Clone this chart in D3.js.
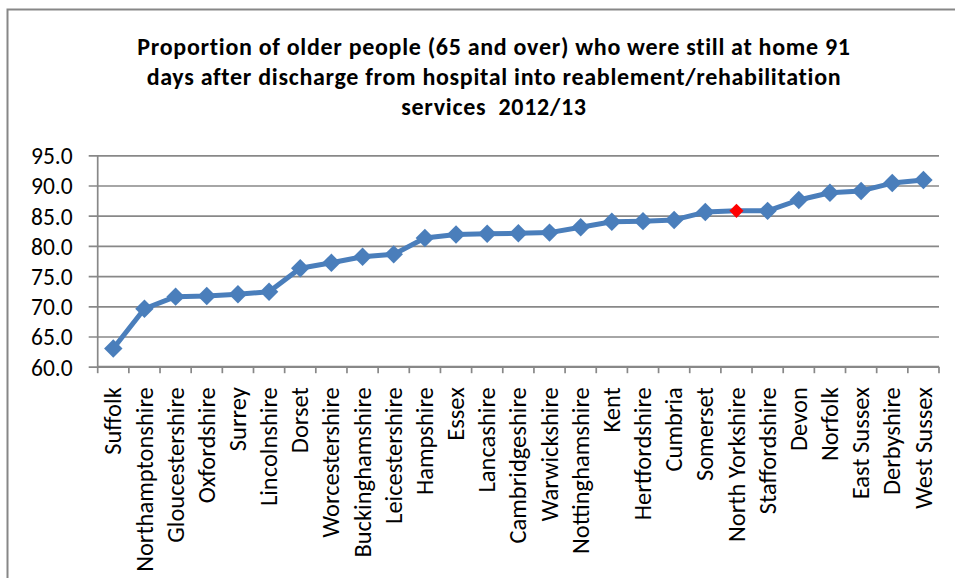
<!DOCTYPE html>
<html lang="en">
<head>
    <meta charset="UTF-8">
    <title>Older people still at home 91 days after discharge</title>
    <style>
        body { margin: 0; background: #fff; }
        svg text { font-family: Carlito, Calibri, Lato, sans-serif; fill: #000; }
    </style>
</head>
<body>
    <div id="chart"></div>
    <script src="https://cdnjs.cloudflare.com/ajax/libs/d3/7.8.5/d3.min.js"></script>
    <script>
        // values
        const counties = ["Suffolk", "Northamptonshire", "Gloucestershire", "Oxfordshire", "Surrey",
            "Lincolnshire", "Dorset", "Worcestershire", "Buckinghamshire", "Leicestershire",
            "Hampshire", "Essex", "Lancashire", "Cambridgeshire", "Warwickshire",
            "Nottinghamshire", "Kent", "Hertfordshire", "Cumbria", "Somerset",
            "North Yorkshire", "Staffordshire", "Devon", "Norfolk", "East Sussex",
            "Derbyshire", "West Sussex"];
        const values = [63.0, 69.6, 71.6, 71.7, 72.0,
            72.4, 76.3, 77.2, 78.2, 78.6,
            81.3, 81.9, 82.0, 82.1, 82.2,
            83.1, 84.0, 84.1, 84.3, 85.6,
            85.8, 85.8, 87.6, 88.8, 89.1,
            90.4, 90.9];
        const highlighted = ["North Yorkshire"];
        const yTicks = [60, 65, 70, 75, 80, 85, 90, 95];
        const titleLines = [
            "Proportion of older people (65 and over) who were still at home 91",
            "days after discharge from hospital into reablement/rehabilitation",
            "services  2012/13"
        ];

        const W = 955, H = 578;
        const margin = { top: 155.3, right: 16, bottom: 211.3, left: 97.7 };
        const width = W - margin.left - margin.right;
        const height = H - margin.top - margin.bottom;

        const svg = d3.select("#chart").append("svg")
            .attr("width", W)
            .attr("height", H);

        // outer frame (cut off on the right and bottom)
        svg.append("path")
            .attr("d", `M7.5,${H + 2}V9.5H${W + 2}`)
            .attr("fill", "none")
            .attr("stroke", "#878787")
            .attr("stroke-width", 2);

        svg.append("text")
            .attr("text-anchor", "middle")
            .style("font-weight", "bold")
            .style("font-size", "24px")
            .style("letter-spacing", "0.7px")
            .selectAll("tspan")
            .data(titleLines)
            .enter()
            .append("tspan")
            .attr("x", 494)
            .attr("y", (d, i) => 55 + i * 30)
            .style("white-space", "pre")
            .text(d => d);

        const g = svg.append("g")
            .attr("transform", `translate(${margin.left},${margin.top})`);

        const x = d3.scaleBand().domain(counties).range([0, width]);
        const y = d3.scaleLinear().domain([60, 95]).range([height, 0]);

        // y axis with gridlines
        const yAxis = g.append("g")
            .call(d3.axisLeft(y).tickValues(yTicks).tickFormat(d3.format(".1f"))
                .tickSize(-width).tickPadding(25));
        yAxis.select(".domain").remove();
        yAxis.selectAll(".tick line")
            .attr("x1", -9)
            .attr("stroke", "#888")
            .attr("stroke-width", 1.7);
        yAxis.selectAll(".tick text")
            .style("font-size", "23.5px")
            .attr("dy", "0.36em");

        // y axis line
        g.append("line")
            .attr("x1", 0).attr("x2", 0)
            .attr("y1", 0).attr("y2", height)
            .attr("stroke", "#888")
            .attr("stroke-width", 1.7);

        // x axis: ticks sit on the category boundaries
        const xAxis = g.append("g")
            .attr("transform", `translate(0,${height})`);
        xAxis.append("line")
            .attr("x1", 0).attr("x2", width)
            .attr("stroke", "#888")
            .attr("stroke-width", 1.7);
        xAxis.selectAll(".xtick")
            .data(counties.concat([null]))
            .enter()
            .append("line")
            .attr("class", "xtick")
            .attr("x1", (d, i) => i * x.step())
            .attr("x2", (d, i) => i * x.step())
            .attr("y1", 0)
            .attr("y2", 6.5)
            .attr("stroke", "#888")
            .attr("stroke-width", 1.7);
        xAxis.selectAll(".xlabel")
            .data(counties)
            .enter()
            .append("text")
            .attr("class", "xlabel")
            .attr("text-anchor", "end")
            .attr("transform", d => `translate(${x(d) + x.bandwidth() / 2},20.5) rotate(-90)`)
            .attr("dy", "0.33em")
            .style("font-size", "24.5px")
            .text(d => d);

        // the series
        const pts = counties.map((c, i) => ({ name: c, value: values[i] }));
        const line = d3.line()
            .x(d => x(d.name) + x.bandwidth() / 2)
            .y(d => y(d.value));

        g.append("path")
            .datum(pts)
            .attr("d", line)
            .attr("fill", "none")
            .attr("stroke", "#4a7ebb")
            .attr("stroke-width", 5)
            .attr("stroke-linejoin", "round");

        const diamond = d3.symbol().type(d3.symbolSquare);
        g.selectAll(".marker")
            .data(pts)
            .enter()
            .append("path")
            .attr("class", "marker")
            .attr("d", d => diamond.size(highlighted.includes(d.name) ? 100 : 170)())
            .attr("transform", d => `translate(${x(d.name) + x.bandwidth() / 2},${y(d.value)}) rotate(45)`)
            .attr("fill", d => highlighted.includes(d.name) ? "#ff0000" : "#4a7ebb");
    </script>
</body>
</html>
